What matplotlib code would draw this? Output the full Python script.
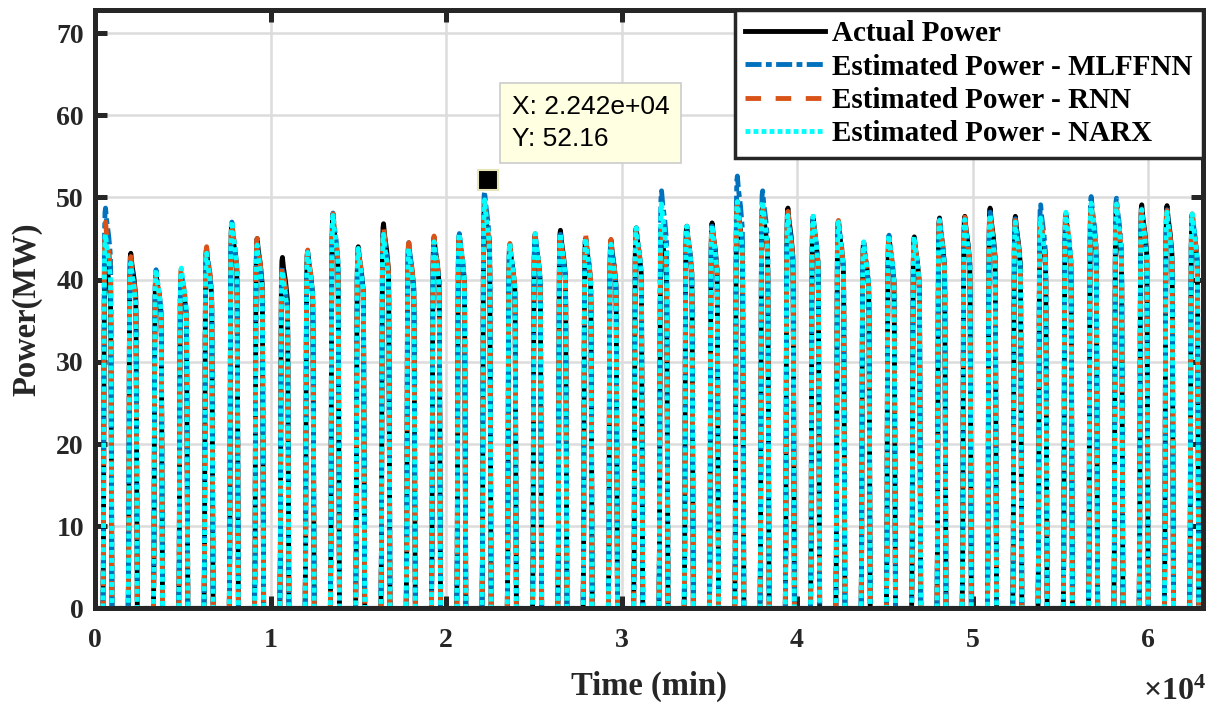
import numpy as np
import matplotlib
matplotlib.use("Agg")
import matplotlib.pyplot as plt
from matplotlib.ticker import MultipleLocator, FuncFormatter
from matplotlib.lines import Line2D

plt.rcParams['font.family'] = ['Liberation Serif', 'DejaVu Serif']
plt.rcParams['mathtext.fontset'] = 'custom'
plt.rcParams['mathtext.rm'] = 'Liberation Serif:bold'
plt.rcParams['mathtext.bf'] = 'Liberation Serif:bold'
plt.rcParams['mathtext.it'] = 'Liberation Serif:bold'

# ---- data ----
day_length = 1440  # minutes per day
# normalized daily generation profile (minutes since midnight, fraction of daily peak)
profile_t = [0, 450, 480, 500, 520, 540, 570, 600, 660, 720, 780, 840, 880, 900, 920, 940, 970, 1440]
profile_f = [0, 0, 0.15, 0.45, 0.75, 0.92, 0.99, 1.0, 0.97, 0.95, 0.93, 0.90, 0.88, 0.80, 0.55, 0.25, 0, 0]

actual_peaks = [43.0, 43.2, 40.8, 40.6, 43.5, 46.5, 45.0, 42.7, 43.4, 47.5, 44.0,
                46.8, 44.2, 45.1, 45.4, 49.0, 44.2, 45.4, 46.0, 45.0, 44.8, 46.3,
                45.8, 46.5, 46.9, 49.5, 49.0, 48.7, 47.5, 47.0, 44.5, 45.2, 45.2,
                47.5, 47.7, 48.7, 47.7, 47.2, 47.8, 49.0, 48.5, 49.1, 49.0, 47.8]
mlffnn_peaks = [48.7, 42.5, 41.2, 41.0, 43.8, 47.0, 44.5, 41.5, 43.2, 48.1, 43.6,
                46.0, 44.5, 45.0, 45.6, 50.7, 44.0, 45.5, 45.5, 45.2, 44.6, 46.2,
                50.8, 46.2, 46.5, 52.6, 50.8, 48.2, 47.7, 47.3, 44.5, 45.4, 45.0,
                47.3, 47.5, 48.2, 47.4, 49.1, 48.0, 50.1, 49.9, 48.6, 48.5, 48.2]
rnn_peaks = [47.0, 42.8, 41.0, 41.4, 44.0, 47.1, 45.0, 41.8, 43.6, 48.0, 44.0,
             46.5, 44.5, 45.3, 45.4, 49.5, 44.4, 45.6, 45.5, 45.4, 44.9, 46.0,
             46.0, 46.3, 46.8, 49.2, 49.2, 48.3, 47.6, 47.2, 44.4, 45.2, 45.2,
             47.2, 47.6, 48.3, 47.2, 48.0, 48.2, 49.5, 49.2, 48.5, 48.4, 48.0]
narx_peaks = [45.5, 42.0, 41.2, 41.4, 43.2, 47.1, 44.2, 41.0, 43.3, 47.8, 43.8,
              45.5, 43.8, 44.6, 45.6, 49.7, 44.4, 45.6, 45.6, 45.0, 44.3, 46.3,
              49.2, 46.5, 46.6, 49.5, 49.5, 47.8, 47.7, 47.0, 44.6, 45.4, 45.2,
              47.2, 47.3, 47.9, 47.0, 47.5, 48.2, 49.3, 49.2, 48.5, 48.2, 48.0]

series_labels = ['Actual Power', 'Estimated Power - MLFFNN',
                 'Estimated Power - RNN', 'Estimated Power - NARX']

tip_x = 22420
tip_y = 52.16


def build(peaks):
    xs, ys = [], []
    for d, p in enumerate(peaks):
        xs.extend(d * day_length + t for t in profile_t)
        ys.extend(p * f for f in profile_f)
    return np.array(xs, dtype=float), np.array(ys, dtype=float)


fig = plt.figure(figsize=(12.1, 7.09), dpi=100)
ax = fig.add_axes([95 / 1210, 1 - 608.4 / 709, (1203 - 95) / 1210, (608.4 - 10) / 709])

LW = 3.5
styles = [
    dict(color='black', dashes=None),
    dict(color='#0072BD', dashes=(3.3, 0.9, 1.2, 0.9)),
    dict(color='#D95319', dashes=(3.2, 3.0)),
    dict(color='#00FFFF', dashes=(1.0, 0.65)),
]
all_peaks = [actual_peaks, mlffnn_peaks, rnn_peaks, narx_peaks]
handles = []
for peaks, st in zip(all_peaks, styles):
    x, y = build(peaks)
    kw = dict(lw=LW, color=st['color'])
    if st['dashes'] is not None:
        kw['dashes'] = st['dashes']
    ax.plot(x, y, zorder=3, **kw)
    handles.append(Line2D([], [], **kw))

ax.set_xlim(0, 63130)
ax.set_ylim(0, 72.8)
ax.xaxis.set_major_locator(MultipleLocator(10000))
ax.yaxis.set_major_locator(MultipleLocator(10))
ax.xaxis.set_major_formatter(FuncFormatter(lambda v, p: f"{int(round(v / 1e4))}"))
ax.grid(True, color='#dcdcdc', lw=1.8, zorder=0)
ax.set_axisbelow(True)

for s in ax.spines.values():
    s.set_linewidth(3.6)
    s.set_color('#262626')
    s.set_zorder(5)
ax.tick_params(direction='in', length=8.5, width=3.6, color='#262626',
               top=True, right=True, labelsize=20)
ax.tick_params(axis='x', pad=14)
ax.tick_params(axis='y', pad=8)
for lbl in ax.get_xticklabels() + ax.get_yticklabels():
    lbl.set_fontweight('bold')
    lbl.set_color('#262626')

ax.set_xlabel('Time (min)', fontsize=23.5, fontweight='bold', color='#262626', labelpad=13)
ax.set_ylabel('Power(MW)', fontsize=23.5, fontweight='bold', color='#262626', labelpad=10)

fig.text(1206 / 1210, 1 - 692 / 709, r'$\times 10^{4}$', ha='right', va='center',
         fontsize=23, color='#262626')

# data tip
ax.plot([tip_x], [tip_y], marker='s', ms=14, color='black', mec='#e6e6b8', mew=1.5,
        zorder=6, clip_on=False)
ax.text(23750, 59.04, f"X: {tip_x:.3e}" + f"\nY: {tip_y}",
        fontsize=19, family='Liberation Sans', ha='left', va='center', zorder=7,
        linespacing=1.4,
        bbox=dict(boxstyle='square,pad=0.45', fc='#ffffe1', ec='#cccccc', lw=1.2))

leg = ax.legend(handles, series_labels, loc='upper right', borderaxespad=0,
                prop=dict(family='Liberation Serif', weight='bold', size=21),
                handlelength=2.75, handletextpad=0.25, labelspacing=0.22,
                borderpad=0.35, fancybox=False, framealpha=1, edgecolor='#262626')
leg.get_frame().set_linewidth(2.5)
leg.set_zorder(10)

fig.savefig('out.png', dpi=100)
